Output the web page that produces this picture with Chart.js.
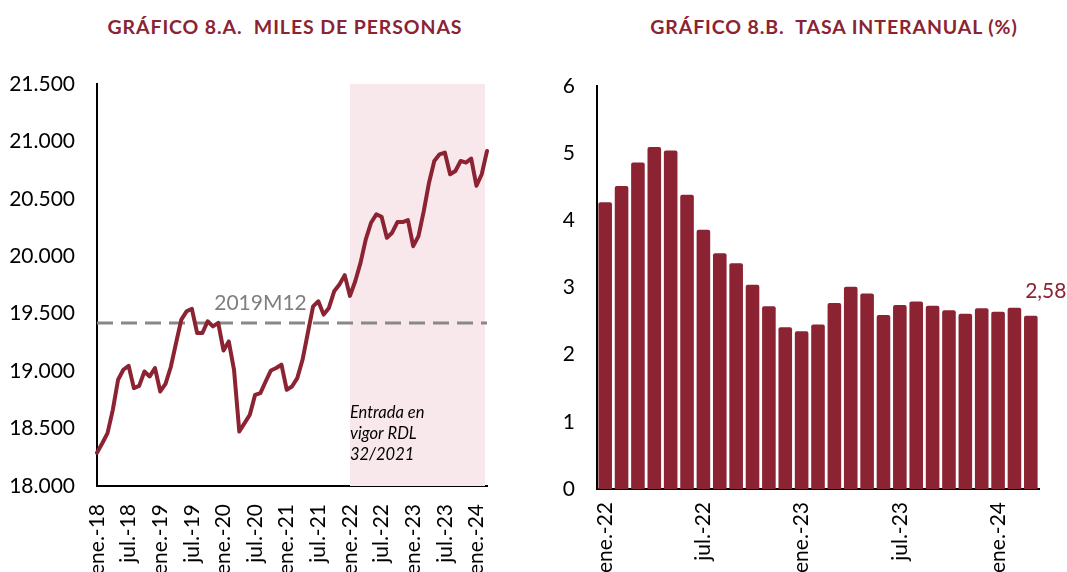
<!DOCTYPE html>
<html>
<head>
<meta charset="utf-8">
<script src="https://cdn.jsdelivr.net/npm/chart.js@4.4.1/dist/chart.umd.min.js"></script>
<style>
  html, body { margin: 0; padding: 0; background: #fff; overflow: hidden; width: 1067px; height: 572px; }
  .title { position: absolute; top: 15px; font-family: Lato, "Open Sans", sans-serif; font-weight: bold; font-size: 19.5px; color: #8B2332; white-space: pre; text-align: center; letter-spacing: 0.9px; }
  canvas { position: absolute; top: 0; }
</style>
</head>
<body>
<div class="title" style="left:75px;width:420px;">GRÁFICO 8.A.  MILES DE PERSONAS</div>
<div class="title" style="left:624px;width:420px;">GRÁFICO 8.B.  TASA INTERANUAL (%)</div>
<canvas id="c1" width="540" height="600" style="left:0px"></canvas>
<canvas id="c2" width="527" height="600" style="left:540px"></canvas>
<script>
// ---------- DATA ----------
const monthNames = ['ene.','feb.','mar.','abr.','may.','jun.','jul.','ago.','sep.','oct.','nov.','dic.'];
const years = ['18','19','20','21','22','23','24'];

// Chart 8.A: afiliados, miles de personas (ene-18 .. mar-24)
const employment2018 = [18290,18372,18460,18663,18925,19012,19047,18852,18872,18997,18954,19027];
const employment2019 = [18823,18890,19036,19245,19449,19521,19542,19332,19332,19434,19390,19420];
const employment2020 = [19180,19259,19012,18474,18547,18620,18794,18809,18910,19006,19027,19056];
const employment2021 = [18838,18866,18939,19099,19332,19564,19608,19492,19550,19695,19754,19836];
const employment2022 = [19655,19783,19943,20147,20292,20365,20344,20161,20205,20298,20298,20315];
const employment2023 = [20088,20175,20393,20641,20830,20888,20903,20714,20743,20830,20816,20851];
const employment2024 = [20614,20714,20917];
const employment = [].concat(employment2018, employment2019, employment2020, employment2021,
                             employment2022, employment2023, employment2024);

const monthsA = [];
years.forEach(y => monthNames.forEach(m => monthsA.push(m + '-' + y)));
const categoriesA = monthsA.slice(0, employment.length);

const refLabel = '2019M12';
const refLevel = employment[categoriesA.indexOf('dic.-19')];
const rdlStart = 'ene.-22';
const rdlText = ['Entrada en', 'vigor RDL', '32/2021'];

const yTicksA = { min: 18000, max: 21500, step: 500 };

// Chart 8.B: tasa interanual (%) (ene-22 .. mar-24)
const rate = [4.27,4.51,4.86,5.09,5.04,4.38,3.86,3.51,3.36,3.04,2.72,2.41,
              2.35,2.45,2.77,3.01,2.91,2.59,2.74,2.79,2.73,2.66,2.61,2.69,
              2.64,2.70,2.58];
const categoriesB = monthsA.slice(monthsA.indexOf('ene.-22'), monthsA.indexOf('ene.-22') + rate.length);
const yTicksB = { min: 0, max: 6, step: 1 };

// ---------- STYLE ----------
const RED = '#8B2332';
const SHADE = '#f8e8ec';
const FONT = 'Lato, "Open Sans", sans-serif';
const fmtThousands = v => String(v).replace(/\B(?=(\d{3})+(?!\d))/g, '.');

// ---------- CHART A ----------
const shadePlugin = {
  id: 'shade',
  beforeDatasetsDraw(chart) {
    const {ctx, chartArea, scales} = chart;
    const x0 = scales.x.getPixelForValue(categoriesA.indexOf(rdlStart));
    ctx.save();
    ctx.fillStyle = SHADE;
    ctx.fillRect(x0, chartArea.top, chartArea.right - x0 - 2, chartArea.bottom - chartArea.top);
    ctx.restore();
  },
  afterDatasetsDraw(chart) {
    const {ctx, chartArea, scales} = chart;
    ctx.save();
    ctx.font = '21px ' + FONT;
    ctx.fillStyle = '#7f7f7f';
    ctx.textAlign = 'left';
    ctx.textBaseline = 'alphabetic';
    const xr = scales.x.getPixelForValue(categoriesA.indexOf('dic.-19'));
    ctx.fillText(refLabel, xr - 4, scales.y.getPixelForValue(refLevel) - 13);
    ctx.font = 'italic 16.5px ' + FONT;
    ctx.fillStyle = '#000';
    const xa = scales.x.getPixelForValue(categoriesA.indexOf(rdlStart));
    rdlText.forEach((t, i) => ctx.fillText(t, xa, chartArea.bottom - 68 + i * 21));
    ctx.restore();
  }
};

new Chart(document.getElementById('c1'), {
  type: 'line',
  data: {
    labels: categoriesA,
    datasets: [
      { data: employment, borderColor: RED, borderWidth: 4, pointRadius: 0, tension: 0,
        borderJoinStyle: 'round', borderCapStyle: 'round', fill: false },
      { data: categoriesA.map(() => refLevel), borderColor: '#888888', borderWidth: 3,
        borderDash: [16, 8], pointRadius: 0, fill: false }
    ]
  },
  options: {
    responsive: false, animation: false,
    layout: { padding: { top: 84, left: 0, right: 53, bottom: 0 } },
    plugins: { legend: { display: false }, tooltip: { enabled: false } },
    scales: {
      x: {
        grid: { display: false },
        border: { display: true, color: '#000', width: 2 },
        ticks: {
          autoSkip: false, maxRotation: 90, minRotation: 90, padding: 10,
          color: '#000', font: { family: FONT, size: 21 },
          callback: (v, i) => (i % 6 === 0 ? categoriesA[i] : '')
        },
        afterFit: s => { s.height = 114; }
      },
      y: {
        min: yTicksA.min, max: yTicksA.max,
        grid: { display: false, drawTicks: false },
        border: { display: true, color: '#000', width: 2 },
        ticks: { stepSize: yTicksA.step, padding: 22, color: '#000',
                 font: { family: FONT, size: 21 }, callback: v => fmtThousands(v) },
        afterFit: s => { s.width = 97; }
      }
    }
  },
  plugins: [shadePlugin]
});

// ---------- CHART B ----------
const lastLabelPlugin = {
  id: 'lastLabel',
  afterDatasetsDraw(chart) {
    const meta = chart.getDatasetMeta(0);
    const bar = meta.data[meta.data.length - 1];
    const v = rate[rate.length - 1];
    const ctx = chart.ctx;
    ctx.save();
    ctx.font = '21px ' + FONT;
    ctx.fillStyle = RED;
    ctx.textAlign = 'center';
    ctx.textBaseline = 'middle';
    ctx.fillText(v.toFixed(2).replace('.', ','), bar.x + 15, bar.y - 24);
    ctx.restore();
  }
};

new Chart(document.getElementById('c2'), {
  type: 'bar',
  data: {
    labels: categoriesB,
    datasets: [{ data: rate, backgroundColor: RED, borderWidth: 0, borderRadius: 2,
                 borderSkipped: 'bottom', barPercentage: 0.83, categoryPercentage: 1 }]
  },
  options: {
    responsive: false, animation: false,
    layout: { padding: { top: 86, left: 0, right: 28, bottom: 0 } },
    plugins: { legend: { display: false }, tooltip: { enabled: false } },
    scales: {
      x: {
        grid: { display: false },
        border: { display: true, color: '#000', width: 2 },
        ticks: {
          autoSkip: false, maxRotation: 90, minRotation: 90, padding: 5,
          color: '#000', font: { family: FONT, size: 21 },
          callback: (v, i) => (i % 6 === 0 ? categoriesB[i] : '')
        },
        afterFit: s => { s.height = 111; }
      },
      y: {
        min: yTicksB.min, max: yTicksB.max,
        grid: { display: false, drawTicks: false },
        border: { display: true, color: '#000', width: 2 },
        ticks: { stepSize: yTicksB.step, padding: 22, color: '#000',
                 font: { family: FONT, size: 21 } },
        afterFit: s => { s.width = 57; }
      }
    }
  },
  plugins: [lastLabelPlugin]
});
</script>
</body>
</html>
